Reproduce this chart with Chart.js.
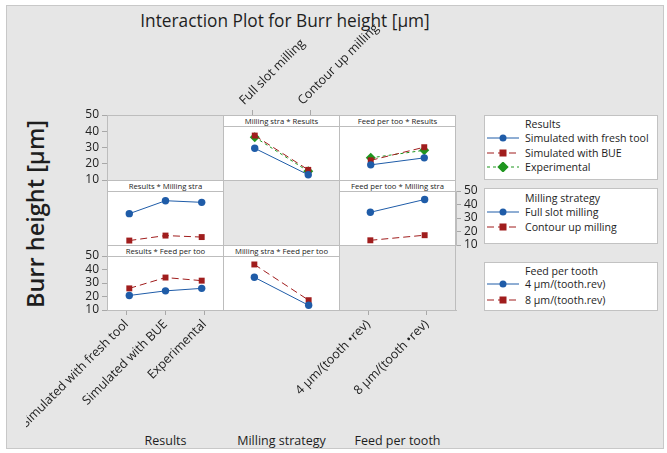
<!DOCTYPE html>
<html>
<head>
<meta charset="utf-8">
<script src="https://cdn.jsdelivr.net/npm/chart.js@4"></script>
<style>
  body { margin: 0; background: #fff; font-family: "Open Sans", sans-serif; color: #1e1e1e; }
  #fig { position: absolute; left: 6px; top: 5px; width: 656px; height: 442px; background: #e6e6e6; border: 1px solid #c8c8c8; }
  .abs { position: absolute; white-space: nowrap; }
  .cell { position: absolute; box-sizing: border-box; border: 1px solid #bdbdbd; }
  .hdr { position: absolute; box-sizing: border-box; background: #fff; border: 1px solid #bdbdbd; height: 12px;
         font-size: 7.7px; line-height: 10px; text-align: center; color: #222; }
  .leg { position: absolute; box-sizing: border-box; background: #fff; border: 1px solid #c2c2c2; }
  .lt { position: absolute; font-size: 10.6px; line-height: 14px; white-space: nowrap; color: #1e1e1e; }
  canvas { position: absolute; }
</style>
</head>
<body>
<div id="fig"></div>
<div class="abs" style="left:0;width:570px;top:9px;text-align:center;font-size:17.3px;line-height:24px;">Interaction Plot for Burr height [µm]</div>
<div class="abs" style="left:35px;top:214px;font-size:23.5px;font-weight:600;transform:translate(-50%,-50%) rotate(-90deg);">Burr height [µm]</div>
<div class="abs" style="left:107px;width:117px;top:432px;text-align:center;font-size:12.5px;">Results</div>
<div class="abs" style="left:223px;width:117px;top:432px;text-align:center;font-size:12.5px;">Milling strategy</div>
<div class="abs" style="left:339px;width:117px;top:432px;text-align:center;font-size:12.5px;">Feed per tooth</div>
<div id="cells"></div>
<div id="legends"></div>
<script>
// categories
const results = ["Simulated with fresh tool", "Simulated with BUE", "Experimental"];
const milling = ["Full slot milling", "Contour up milling"];
const feeds = ["4 µm/(tooth.rev)", "8 µm/(tooth.rev)"];
const feedTicks = ["4 µm/(tooth •rev)", "8 µm/(tooth •rev)"];

// mean burr height [µm]
// rows = results, columns = milling strategy
const resultsByMilling = [
  [32.6, 11.0],
  [43.0, 15.0],
  [41.7, 13.8]
];
// rows = results, columns = feed per tooth
const resultsByFeed = [
  [19.1, 24.8],
  [22.8, 33.5],
  [24.8, 31.0]
];
// rows = milling strategy, columns = feed per tooth
const millingByFeed = [
  [33.7, 44.0],
  [11.2, 15.3]
];
const yTicks = [10, 20, 30, 40, 50];

const BLUE = "#1f5ca8", RED = "#a01d1d", GREEN = "#1f961f", GRID = "#bdbdbd";
const styles = [
  { color: BLUE, dash: [], point: "circle", r: 3.7 },
  { color: RED, dash: [7, 4], point: "rect", r: 4.2 },
  { color: GREEN, dash: [3, 3], point: "rectRot", r: 5 }
];

const colX = [107, 223, 339, 455];
const rowY = [115, 180, 245, 310];
const HDR = 11;

function addCanvas(x, y, w, h) {
  const c = document.createElement("canvas");
  c.width = w; c.height = h;
  c.style.left = x + "px"; c.style.top = y + "px";
  document.body.appendChild(c);
  return c;
}

const baseOpts = {
  responsive: false, animation: false, events: [],
  plugins: { legend: { display: false }, tooltip: { enabled: false }, title: { display: false } }
};

function panel(r, c, title, labels, series) {
  const x = colX[c], y = rowY[r];
  const cell = document.createElement("div");
  cell.className = "cell";
  Object.assign(cell.style, { left: x + "px", top: y + "px", width: "117px", height: "66px", background: "#fff" });
  document.getElementById("cells").appendChild(cell);
  const h = document.createElement("div");
  h.className = "hdr";
  Object.assign(h.style, { left: x + "px", top: y + "px", width: "117px" });
  h.textContent = title;
  document.getElementById("cells").appendChild(h);

  const cv = addCanvas(x, y, 117, 66);
  new Chart(cv, {
    type: "line",
    data: {
      labels: labels,
      datasets: series.map((d, i) => ({
        data: d,
        borderColor: styles[i].color,
        backgroundColor: styles[i].color,
        borderWidth: 1,
        borderDash: styles[i].dash,
        pointStyle: styles[i].point,
        pointRadius: styles[i].r,
        pointBorderWidth: 0,
        clip: false
      }))
    },
    options: Object.assign({}, baseOpts, {
      layout: { padding: { top: HDR + 1, bottom: 1, left: 0, right: 1 } },
      scales: {
        x: { type: "category", offset: true, display: false },
        y: { min: 10, max: 50, display: false }
      }
    })
  });
}

function emptyCell(r, c) {
  const cell = document.createElement("div");
  cell.className = "cell";
  Object.assign(cell.style, { left: colX[c] + "px", top: rowY[r] + "px", width: "117px", height: "66px" });
  document.getElementById("cells").appendChild(cell);
}

// axis-only chart: canvas rect, chart area rect, one visible scale
function axisChart(cx, cy, cw, ch, ax, ay, aw, ah, id, scale, labels) {
  const pad = { left: ax - cx, top: ay - cy, right: cx + cw - ax - aw, bottom: cy + ch - ay - ah };
  const side = scale.position;
  const size = pad[side];
  pad[side] = 0;
  scale.afterFit = s => {
    if (side === "left" || side === "right") s.width = size; else s.height = size;
    s.paddingLeft = 0; s.paddingRight = 0; s.paddingTop = 0; s.paddingBottom = 0;
  };
  scale.border = { display: true, color: GRID };
  scale.grid = { drawOnChartArea: false, drawTicks: true, tickLength: 5, color: "#a8a8a8", offset: false };
  const scales = {};
  if (id === "x") {
    scales.x = Object.assign({ type: "category", offset: true }, scale);
    scales.y = { display: false, min: 10, max: 50 };
  } else {
    scales.x = { type: "category", offset: true, display: false };
    scales.y = Object.assign({ min: 10, max: 50 }, scale);
  }
  const cv = addCanvas(cx, cy, cw, ch);
  new Chart(cv, {
    type: "line",
    data: { labels: labels || [""], datasets: [{ data: [] }] },
    options: Object.assign({}, baseOpts, { layout: { padding: pad }, scales: scales })
  });
}

const yScale = pos => ({
  position: pos,
  afterBuildTicks: s => { s.ticks = yTicks.map(v => ({ value: v })); },
  ticks: { color: "#222", font: { family: "Open Sans", size: 12 }, padding: 3, autoSkip: false }
});
const xScale = (pos, rot) => ({
  position: pos,
  ticks: { color: "#222", font: { family: "Open Sans", size: 12.5 }, padding: 2,
           minRotation: rot, maxRotation: rot, autoSkip: false }
});

// diagonal cells
emptyCell(0, 0); emptyCell(1, 1); emptyCell(2, 2);

// interaction panels
panel(0, 1, "Milling stra * Results", milling, resultsByMilling);
panel(0, 2, "Feed per too * Results", feeds, resultsByFeed);
panel(1, 0, "Results * Milling stra", results, millingByFeed.map((_, j) => resultsByMilling.map(row => row[j])));
panel(1, 2, "Feed per too * Milling stra", feeds, millingByFeed);
panel(2, 0, "Results * Feed per too", results, [0, 1].map(k => resultsByFeed.map(row => row[k])));
panel(2, 1, "Milling stra * Feed per too", milling, [0, 1].map(k => millingByFeed.map(row => row[k])));

// axes
axisChart(40, 100, 184, 95, 107, 115, 117, 65, "y", yScale("left"));
axisChart(40, 240, 184, 85, 107, 256, 117, 54, "y", yScale("left"));
axisChart(440, 175, 60, 85, 440, 191, 16, 54, "y", yScale("right"));
axisChart(26, 300, 198, 145, 107, 300, 117, 10, "x", xScale("bottom", 45), results);
axisChart(270, 300, 190, 145, 339, 300, 117, 10, "x", xScale("bottom", 45), feedTicks);
axisChart(223, 0, 200, 125, 223, 115, 117, 10, "x", xScale("top", 45), milling);

// legends
function sym(i) {
  const s = styles[i];
  let m;
  if (s.point === "circle") m = `<circle cx="16" cy="5" r="3.5" fill="${s.color}"/>`;
  else if (s.point === "rect") m = `<rect x="12.5" y="1.5" width="7" height="7" fill="${s.color}"/>`;
  else m = `<rect x="12" y="1" width="8" height="8" fill="${s.color}" transform="rotate(45 16 5)"/>`;
  return `<svg width="33" height="10" style="position:absolute;left:0;top:0"><line x1="0" y1="5" x2="32" y2="5" stroke="${s.color}" stroke-width="1" stroke-dasharray="${s.dash.join(",")}"/>${m}</svg>`;
}
function legend(top, height, title, titleY, items, itemY) {
  const L = document.getElementById("legends");
  let html = `<div class="leg" style="left:484px;top:${top}px;width:174px;height:${height}px"></div>`;
  html += `<div class="lt" style="left:525px;top:${titleY - 7}px">${title}</div>`;
  items.forEach((t, i) => {
    html += `<div class="abs" style="left:487px;top:${itemY[i] - 5}px;width:33px;height:10px">${sym(i)}</div>`;
    html += `<div class="lt" style="left:525px;top:${itemY[i] - 7}px">${t}</div>`;
  });
  L.insertAdjacentHTML("beforeend", html);
}
legend(115, 65, "Results", 124, results, [138, 152.5, 166.7]);
legend(188, 56, "Milling strategy", 198.3, milling, [211.7, 226.7]);
legend(262, 49, "Feed per tooth", 270.7, feeds, [284.3, 300]);
</script>
</body>
</html>
